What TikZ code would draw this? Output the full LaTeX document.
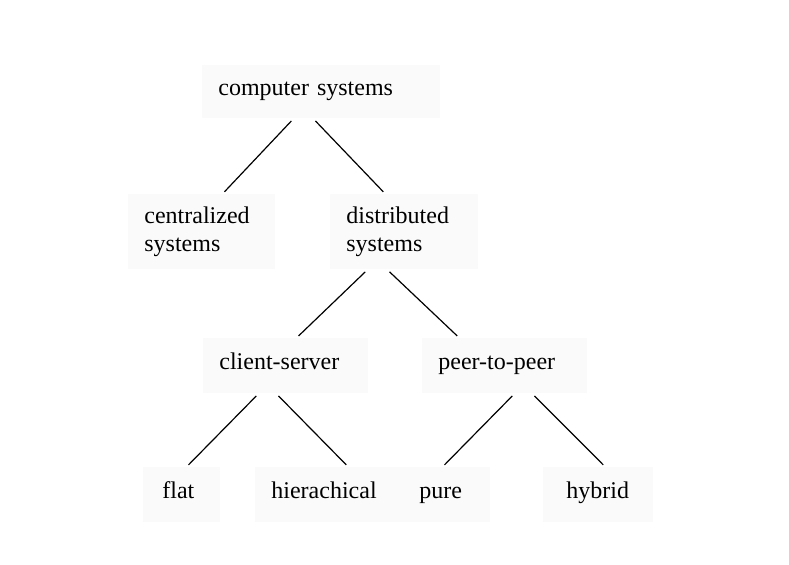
\documentclass[tikz,border=0pt]{standalone}
\usepackage{fontspec}
\setmainfont{Liberation Serif}
\usepackage{xcolor}
\usepackage{tikz}
\definecolor{boxgray}{RGB}{250,250,250}

\begin{document}
\begin{tikzpicture}[x=0.5pt,y=-0.5pt]
      \tikzstyle{class}=[fill=boxgray,anchor=north west,align=left,inner xsep=8pt,inner ysep=0pt,font=\fontsize{12}{14}\selectfont]
      \tikzstyle{leaf}=[class,text height=8pt,text depth=4.5pt,minimum height=27.5pt]
      \tikzstyle{edge}=[line width=0.6pt,shorten <=1.5pt,shorten >=1.5pt]
      \useasboundingbox (0,0) rectangle (789,564);
      \node[leaf,text width=103pt,minimum height=26.5pt] (cs) at (202,65) {computer systems};
      \node[class,text width=57.5pt,minimum height=37.5pt,yshift=-0.5pt] (cent) at (128,193) {centralized\\systems};
      \node[class,text width=58pt,minimum height=37.5pt,yshift=-0.5pt] (dist) at (330,193) {distributed\\systems};
      \node[leaf,text width=66.5pt] (cls) at (203,338) {client-server};
      \node[leaf,text width=66.5pt] (p2p) at (422,338) {peer-to-peer};
      \node[leaf,inner xsep=9.5pt,text width=19.5pt] (flat) at (143,467) {flat};
      \node[leaf,text width=60pt] (hier) at (255,467) {hierachical};
      \node[leaf,text width=28.5pt,inner xsep=7pt] (pure) at (405,467) {pure};
      \node[leaf,text width=32pt,inner xsep=11.5pt] (hyb) at (543,467) {hybrid};
      \draw[edge] ([xshift=-14pt]cs.south) -- ([xshift=10.25pt]cent.north);
      \draw[edge] ([xshift=-4pt]cs.south) -- ([xshift=-9.5pt]dist.north);
      \draw[edge] ([xshift=-18.5pt]dist.south) -- ([xshift=5.25pt]cls.north);
      \draw[edge] ([xshift=-8.5pt]dist.south) -- ([xshift=-22.75pt]p2p.north);
      \draw[edge] ([xshift=-13.75pt]cls.south) -- ([xshift=2.25pt]flat.north);
      \draw[edge] ([xshift=-4.75pt]cls.south) -- ([xshift=8.5pt]hier.north);
      \draw[edge] ([xshift=4.75pt]p2p.south) -- ([xshift=-2.75pt]pure.north);
      \draw[edge] ([xshift=13.75pt]p2p.south) -- ([xshift=3.5pt]hyb.north);
    \end{tikzpicture}
\end{document}
